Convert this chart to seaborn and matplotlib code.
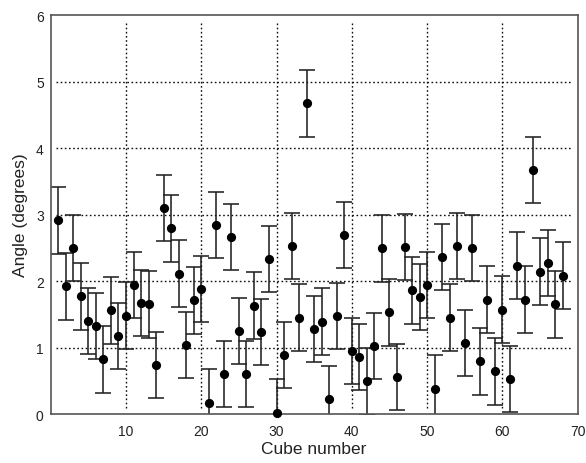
import matplotlib
matplotlib.use("Agg")
import matplotlib.pyplot as plt
import seaborn as sns
import pandas as pd

# Misalignment angle measured for each cube, with a fixed uncertainty
cube_number = list(range(1, 69))
angle_deg = [2.91, 1.92, 2.50, 1.77, 1.40, 1.32, 0.82, 1.56, 1.17, 1.48,
             1.94, 1.67, 1.65, 0.74, 3.10, 2.79, 2.11, 1.04, 1.71, 1.88,
             0.17, 2.84, 0.60, 2.66, 1.25, 0.60, 1.63, 1.23, 2.33, 0.02,
             0.89, 2.53, 1.45, 4.67, 1.28, 1.39, 0.22, 1.47, 2.69, 0.95,
             0.86, 0.49, 1.02, 2.49, 1.53, 0.56, 2.51, 1.86, 1.76, 1.94,
             0.38, 2.36, 1.45, 2.53, 1.07, 2.50, 0.79, 1.72, 0.64, 1.57,
             0.53, 2.23, 1.72, 3.67, 2.14, 2.27, 1.65, 2.08]
angle_err = 0.5

x_ticks = [10, 20, 30, 40, 50, 60, 70]
y_ticks = [0, 1, 2, 3, 4, 5, 6]

df = pd.DataFrame({"cube": cube_number, "angle": angle_deg})

sns.set_theme(style="white")
plt.rcParams["font.family"] = ["Liberation Sans", "DejaVu Sans"]

fig = plt.figure(figsize=(5.86, 4.64), dpi=100)
ax = fig.add_axes([0.0865, 0.1056, 0.8993, 0.8599])

# dotted grid that stops just short of the frame
for xv in x_ticks[:-1]:
    ax.axvline(xv, ymin=0.015, ymax=0.985, color="#111111", lw=1.0,
               ls=(0, (1.2, 1.8)), zorder=0)
for yv in y_ticks[1:-1]:
    ax.axhline(yv, xmin=0.011, xmax=0.989, color="#111111", lw=1.0,
               ls=(0, (1.2, 1.8)), zorder=0)

ax.errorbar(df["cube"], df["angle"], yerr=angle_err, fmt="none",
            ecolor="#222222", elinewidth=1.15, capsize=5.5, capthick=1.15,
            zorder=2)
sns.scatterplot(data=df, x="cube", y="angle", ax=ax, color="black",
                s=44, edgecolor="black", linewidth=0, zorder=3,
                clip_on=False)

ax.set_xlim(0, 70)
ax.set_ylim(0, 6)
ax.set_xticks(x_ticks)
ax.set_yticks(y_ticks)
ax.tick_params(axis="both", length=0, labelsize=10, colors="#222222")
ax.tick_params(axis="x", pad=7)
ax.tick_params(axis="y", pad=5)

for sp in ax.spines.values():
    sp.set_color("#555555")
    sp.set_linewidth(1.2)

ax.set_xlabel("Cube number", fontsize=12.5, color="#222222", labelpad=2)
ax.set_ylabel("Angle (degrees)", fontsize=12.5, color="#222222", labelpad=6)

fig.savefig("out.png", dpi=100)
